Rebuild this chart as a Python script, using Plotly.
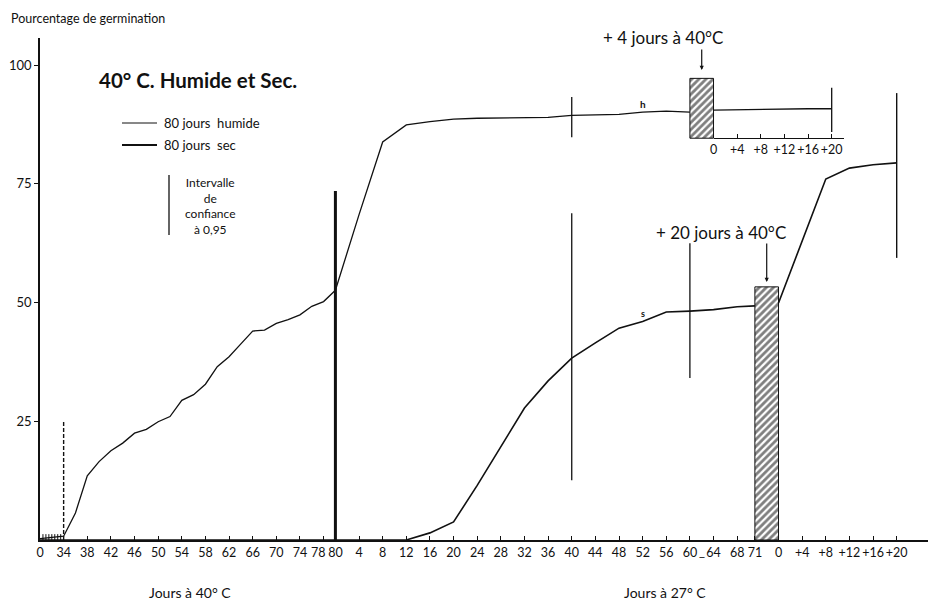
import plotly.graph_objects as go

# ---------------- data ----------------
# Humid series, days at 40 C
hum40_days = [0, 34, 36, 38, 40, 42, 44, 46, 48, 50, 52, 54, 56, 58, 60, 62, 64, 66, 68, 70, 72, 74, 76, 78, 80]
hum40_pct = [0.3, 0.8, 5.7, 13.5, 16.5, 18.8, 20.4, 22.5, 23.3, 24.9, 26.0, 29.4, 30.6, 32.8, 36.5,
             38.6, 41.3, 44.0, 44.2, 45.6, 46.4, 47.4, 49.2, 50.2, 52.6]
# Humid series, days at 27 C
hum27_days = [0, 4, 8, 12, 16, 20, 24, 28, 32, 36, 40, 44, 48, 52, 56, 60]
hum27_pct = [52.6, 68.5, 83.8, 87.4, 88.1, 88.6, 88.8, 88.9, 88.9, 89.0, 89.4, 89.5, 89.6, 90.1, 90.3, 90.1]
# Humid series after +4 days at 40 C
humAfter_days = [0, 4, 8, 12, 16, 20]
humAfter_pct = [90.5, 90.6, 90.7, 90.7, 90.8, 90.8]

# Dry series
sec40_days = [0, 80]
sec40_pct = [0, 0]
sec27_days = [0, 4, 8, 12, 16, 20, 24, 28, 32, 36, 40, 44, 48, 52, 56, 60, 64, 68, 71]
sec27_pct = [0, 0, 0, 0, 1.5, 3.8, 11.5, 19.8, 27.8, 33.5, 38.3, 41.5, 44.6, 46.0, 48.0, 48.2, 48.5, 49.1, 49.3]
secAfter_days = [0, 4, 8, 12, 16, 20]
secAfter_pct = [49.9, 63.0, 76.0, 78.3, 79.0, 79.4]

# Confidence intervals (day, low, high)
ci_hum27 = (40, 84.8, 93.3)
ci_humAfter = (20, 85.9, 95.2)
ci_sec27 = [(40, 12.6, 68.8), (60, 34.1, 62.5)]
ci_secAfter = (20, 59.4, 94.1)
ci_day80 = (80, 0, 73.5)
ci_day34 = (34, 0, 25)

# Extra periods at 40 C (hatched)
hum_extra = dict(start=60, end=64, low=84.6, high=97.2)   # +4 jours a 40 C
sec_extra = dict(start=71, low=0, high=53.3)              # +20 jours a 40 C

# Tick labels
ticks40 = [0, 34, 38, 42, 46, 50, 54, 58, 62, 66, 70, 74, 78, 80]
ticks27 = [4, 8, 12, 16, 20, 24, 28, 32, 36, 40, 44, 48, 52, 56, 60, 64, 68, 71]
ticksAfter = [0, 4, 8, 12, 16, 20]
yticks = [25, 50, 75, 100]


# ---------------- broken axis scale ----------------
def pos40(d):
    return d * 4 / 34 if d <= 34 else d - 30


def pos27(d):
    return 50 + d


HATCH_DAYS = 4


def posAfter(d):
    return pos27(71) + HATCH_DAYS + d


X_MAX = 150.3
INSET0 = pos27(hum_extra["end"])

FONT = "Lato"
BLACK = "#111"

fig = go.Figure()

PATTERN = dict(shape="/", fgcolor="#000", bgcolor="white", size=5, solidity=0.55)

# hatched periods
fig.add_trace(go.Bar(
    x=[(pos27(hum_extra["start"]) + pos27(hum_extra["end"])) / 2], y=[hum_extra["high"] - hum_extra["low"]],
    base=[hum_extra["low"]], width=[pos27(hum_extra["end"]) - pos27(hum_extra["start"])],
    marker=dict(color="white", line=dict(color=BLACK, width=1), pattern=PATTERN),
    showlegend=False, hoverinfo="skip"))
fig.add_trace(go.Bar(
    x=[pos27(sec_extra["start"]) + HATCH_DAYS / 2], y=[sec_extra["high"] - sec_extra["low"]],
    base=[sec_extra["low"]], width=[HATCH_DAYS],
    marker=dict(color="white", line=dict(color=BLACK, width=1), pattern=PATTERN),
    showlegend=False, hoverinfo="skip"))


def line(x, y, w=1.4, dash="solid", xaxis="x"):
    fig.add_trace(go.Scatter(x=x, y=y, mode="lines", xaxis=xaxis,
                             line=dict(color=BLACK, width=w, dash=dash),
                             showlegend=False, hoverinfo="skip"))


# humid curve
line([pos40(d) for d in hum40_days], hum40_pct, 1.3)
line([pos27(d) for d in hum27_days], hum27_pct, 1.3)
line(humAfter_days, humAfter_pct, 1.3, xaxis="x2")
# dry curve
line([pos40(d) for d in sec40_days], sec40_pct, 1.6)
line([pos27(d) for d in sec27_days], sec27_pct, 1.6)
line([posAfter(d) for d in secAfter_days], secAfter_pct, 1.6)

# confidence intervals
line([pos27(ci_hum27[0])] * 2, ci_hum27[1:], 1.3)
line([ci_humAfter[0]] * 2, ci_humAfter[1:], 1.3, xaxis="x2")
for d, lo, hi in ci_sec27:
    line([pos27(d)] * 2, [lo, hi], 1.3)
line([posAfter(ci_secAfter[0])] * 2, ci_secAfter[1:], 1.4)
line([pos40(ci_day80[0])] * 2, ci_day80[1:], 3)
line([pos40(ci_day34[0])] * 2, ci_day34[1:], 1.4, dash="4px,2px")

# small hatch ticks between 0 and 34
fig.add_trace(go.Scatter(x=[0.5, 1, 1.5, 2, 2.5, 3, 3.5], y=[0.5] * 7, mode="markers",
                         marker=dict(symbol="line-ns", size=5, line=dict(color=BLACK, width=1)),
                         showlegend=False, hoverinfo="skip"))

tickvals = [pos40(d) for d in ticks40] + [pos27(d) for d in ticks27] + [posAfter(d) for d in ticksAfter]
# the "78" label is set slightly to the left (as in the original) to avoid clashing with "80"
ticktext = [("" if d == 78 else str(d)) for d in ticks40] + [str(d) for d in ticks27] + \
           [("+" + str(d)) if d else "0" for d in ticksAfter]

fig.update_layout(
    width=928, height=601,
    margin=dict(l=40, r=0, t=38, b=61),
    paper_bgcolor="white", plot_bgcolor="rgba(0,0,0,0)",
    font=dict(family=FONT, color=BLACK),
    barmode="overlay",
    xaxis=dict(range=[0, X_MAX], domain=[0, 1], showgrid=False, zeroline=False,
               showline=True, linecolor=BLACK, linewidth=1.5,
               ticks="inside", ticklen=4, tickcolor=BLACK, tickwidth=1,
               tickvals=tickvals, ticktext=ticktext, tickangle=0,
               tickfont=dict(size=12.5, family=FONT, color=BLACK), automargin=False),
    xaxis2=dict(range=[0, 22], domain=[INSET0 / X_MAX, (INSET0 + 22) / X_MAX],
                anchor="free", position=(540 - 138) / 502,
                showgrid=False, zeroline=False, showline=True, linecolor=BLACK, linewidth=1.3,
                ticks="inside", ticklen=4, tickcolor=BLACK,
                tickvals=ticksAfter, ticktext=[("+" + str(d)) if d else "0" for d in ticksAfter],
                tickangle=0, tickfont=dict(size=12.5, family=FONT, color=BLACK), automargin=False),
    yaxis=dict(range=[0, 105.7], showgrid=False, zeroline=False,
               showline=True, linecolor=BLACK, linewidth=1.5,
               ticks="outside", ticklen=4, tickcolor=BLACK,
               tickvals=yticks, tickfont=dict(size=13, family=FONT, color=BLACK), automargin=False),
)


def px2paper_x(px):
    return (px - 40) / 888


def px2paper_y(py):
    return (540 - py) / 502


def note(text, x, y, size=12, xanchor="center", bold=False, xref="paper", yref="paper", xshift=0):
    fig.add_annotation(text=f"<b>{text}</b>" if bold else text, x=x, y=y, xref=xref, yref=yref,
                       showarrow=False, xanchor=xanchor, yanchor="middle", xshift=xshift,
                       font=dict(size=size, family=FONT, color=BLACK))


note("78", pos40(78), px2paper_y(552), 12.5, xref="x", xshift=-5)
note("Pourcentage de germination", px2paper_x(9), px2paper_y(18), 12.5, xanchor="left")
note("40° C. Humide et Sec.", px2paper_x(198), px2paper_y(80), 20.5, bold=True)
note("80 jours  humide", px2paper_x(162), px2paper_y(123), 13, xanchor="left")
note("80 jours  sec", px2paper_x(162), px2paper_y(145), 13, xanchor="left")
note("Intervalle<br>de<br>confiance<br>à 0,95", px2paper_x(210), px2paper_y(206), 12)
note("Jours à 40° C", px2paper_x(190), px2paper_y(592), 14)
note("Jours à 27° C", px2paper_x(665), px2paper_y(592), 14)
note("+ 4 jours à 40°C", px2paper_x(663), px2paper_y(37), 17)
note("+ 20 jours à 40°C", px2paper_x(721), px2paper_y(232), 17)
note("h", pos27(52), 91.8, 10, xref="x", yref="y", bold=True)
note("s", pos27(52), 47.6, 9, xref="x", yref="y", bold=True)
note("_", pos27(62), px2paper_y(551), 13, xref="x")

# legend sample lines
fig.add_shape(type="line", xref="paper", yref="paper", x0=px2paper_x(122), x1=px2paper_x(157),
              y0=px2paper_y(123), y1=px2paper_y(123), line=dict(color=BLACK, width=1))
fig.add_shape(type="line", xref="paper", yref="paper", x0=px2paper_x(122), x1=px2paper_x(157),
              y0=px2paper_y(145), y1=px2paper_y(145), line=dict(color=BLACK, width=1.8))
fig.add_shape(type="line", xref="paper", yref="paper", x0=px2paper_x(169), x1=px2paper_x(169),
              y0=px2paper_y(175), y1=px2paper_y(235), line=dict(color=BLACK, width=1.3))

# arrows
fig.add_annotation(x=pos27(62), y=(540 - 70) / 4.75, xref="x", yref="y", text="", showarrow=True,
                   ax=0, ay=-22, arrowhead=2, arrowsize=0.7, arrowwidth=1.2, arrowcolor=BLACK)
fig.add_annotation(x=pos27(71) + HATCH_DAYS / 2, y=(540 - 282) / 4.75, xref="x", yref="y", text="",
                   showarrow=True, ax=0, ay=-40, arrowhead=2, arrowsize=0.7, arrowwidth=1.2, arrowcolor=BLACK)

fig.write_html("out.html")
